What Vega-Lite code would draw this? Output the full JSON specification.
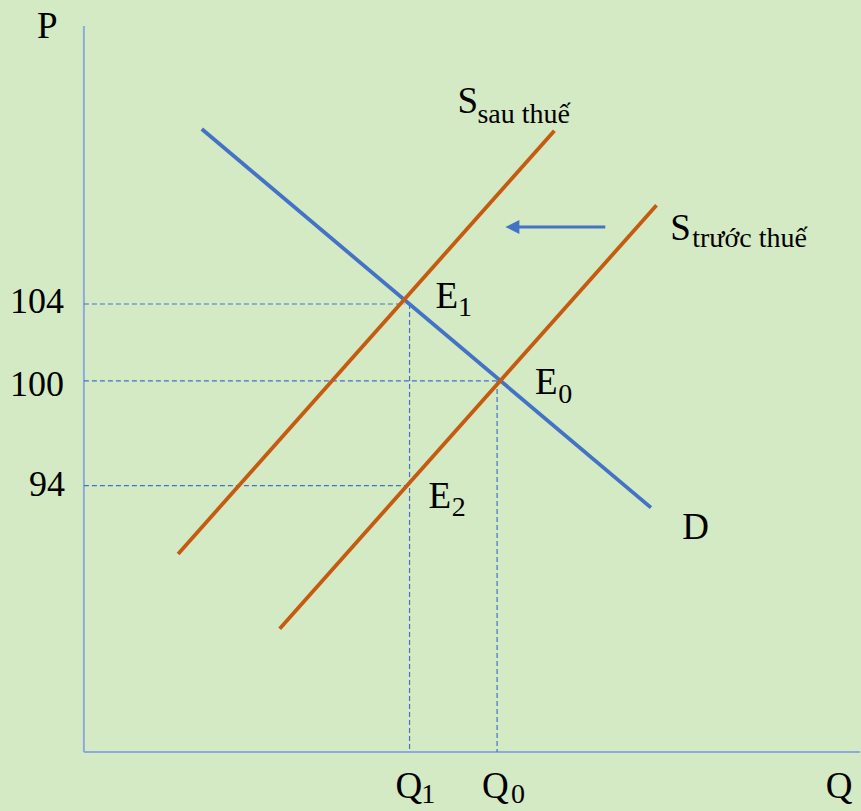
{
  "$schema": "https://vega.github.io/schema/vega-lite/v6.json",
  "width": 861,
  "height": 811,
  "padding": 0,
  "autosize": {"type": "fit", "contains": "padding"},
  "background": "#d4eac4",
  "config": {"view": {"stroke": null}, "text": {"font": "Liberation Serif", "color": "#000000"}},
  "datasets": {
    "axes": [
      {"name": "P", "x": 0, "y": 0, "x2": 0, "y2": 96.54},
      {"name": "Q", "x": 0, "y": 0, "x2": 100, "y2": 0}
    ],
    "guides": [
      {"name": "104", "x": 0, "y": 59.57, "x2": 41.31, "y2": 59.57},
      {"name": "100", "x": 0, "y": 49.34, "x2": 53.54, "y2": 49.34},
      {"name": "94", "x": 0, "y": 35.41, "x2": 41.96, "y2": 35.41},
      {"name": "Q1", "x": 41.96, "y": 59.57, "x2": 41.96, "y2": 0},
      {"name": "Q0", "x": 53.24, "y": 49.34, "x2": 53.24, "y2": 0}
    ],
    "curves": [
      {"name": "D", "x": 15.19, "y": 82.85, "x2": 73.06, "y2": 32.49},
      {"name": "S sau thuế", "x": 12.14, "y": 26.33, "x2": 60.62, "y2": 82.62},
      {"name": "S trước thuế", "x": 25.23, "y": 16.4, "x2": 73.78, "y2": 72.7}
    ],
    "shift": [
      {"name": "shaft", "x": 67.18, "y": 69.81, "x2": 55.6, "y2": 69.81}
    ],
    "head": [
      {"name": "head", "x": 55.21, "y": 69.81}
    ],
    "big": [
      {"label": "P", "x": -6.05, "y": 94.95},
      {"label": "E", "x": 45.3, "y": 59.04},
      {"label": "E", "x": 58.13, "y": 47.61},
      {"label": "E", "x": 44.4, "y": 32.45},
      {"label": "D", "x": 77.09, "y": 28.32},
      {"label": "Q", "x": 40.15, "y": -6.12},
      {"label": "Q", "x": 51.31, "y": -6.12},
      {"label": "Q", "x": 95.58, "y": -6.12},
      {"label": "S", "x": 48.13, "y": 84.97},
      {"label": "S", "x": 75.55, "y": 68.09}
    ],
    "prices": [
      {"label": "104", "x": -2.57, "y": 58.38},
      {"label": "100", "x": -2.57, "y": 47.34},
      {"label": "94", "x": -2.45, "y": 34.04}
    ],
    "subs": [
      {"label": "1", "x": 48.2, "y": 57.98},
      {"label": "0", "x": 61.13, "y": 46.45},
      {"label": "2", "x": 47.4, "y": 31.38},
      {"label": "1", "x": 43.46, "y": -6.78},
      {"label": "0", "x": 55.04, "y": -6.78},
      {"label": "sau thuế", "x": 50.71, "y": 83.6},
      {"label": "trước thuế", "x": 78.38, "y": 67.2}
    ]
  },
  "encoding": {
    "x": {"field": "x", "type": "quantitative", "axis": null, "scale": {"domain": [-10.81, 100], "nice": false, "zero": false}},
    "y": {"field": "y", "type": "quantitative", "axis": null, "scale": {"domain": [-7.85, 100], "nice": false, "zero": false}}
  },
  "layer": [
    {
      "data": {"name": "axes"},
      "mark": {"type": "rule", "color": "#8eaadb", "strokeWidth": 2},
      "encoding": {"x2": {"field": "x2"}, "y2": {"field": "y2"}}
    },
    {
      "data": {"name": "guides"},
      "mark": {"type": "rule", "color": "#4472c4", "strokeWidth": 1.2, "strokeDash": [5, 3]},
      "encoding": {"x2": {"field": "x2"}, "y2": {"field": "y2"}}
    },
    {
      "data": {"name": "curves"},
      "mark": {"type": "rule", "strokeWidth": 3.8, "strokeCap": "butt"},
      "encoding": {
        "x2": {"field": "x2"},
        "y2": {"field": "y2"},
        "color": {"field": "name", "type": "nominal", "legend": null,
          "scale": {"domain": ["D", "S sau thuế", "S trước thuế"], "range": ["#4472c4", "#c55a11", "#c55a11"]}}
      }
    },
    {
      "data": {"name": "shift"},
      "mark": {"type": "rule", "color": "#4472c4", "strokeWidth": 3},
      "encoding": {"x2": {"field": "x2"}, "y2": {"field": "y2"}}
    },
    {
      "data": {"name": "head"},
      "mark": {"type": "point", "shape": "M-1,0L1,-1L1,1Z", "filled": true, "color": "#4472c4", "opacity": 1, "size": 196, "strokeWidth": 0},
      "encoding": {}
    },
    {
      "data": {"name": "big"},
      "mark": {"type": "text", "fontSize": 37, "align": "left", "baseline": "alphabetic"},
      "encoding": {"text": {"field": "label"}}
    },
    {
      "data": {"name": "prices"},
      "mark": {"type": "text", "fontSize": 36, "align": "right", "baseline": "alphabetic"},
      "encoding": {"text": {"field": "label"}}
    },
    {
      "data": {"name": "subs"},
      "mark": {"type": "text", "fontSize": 28, "align": "left", "baseline": "alphabetic"},
      "encoding": {"text": {"field": "label"}}
    }
  ]
}
